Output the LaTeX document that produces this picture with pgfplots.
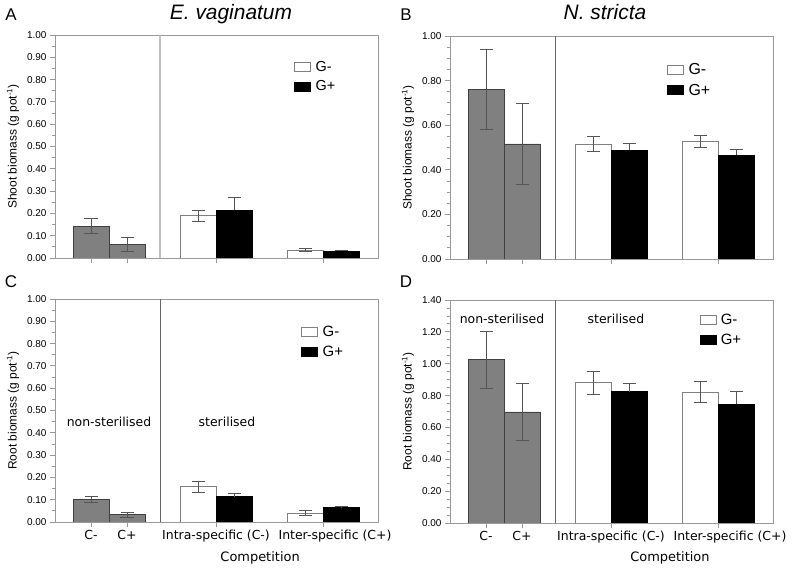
\documentclass[border=0pt]{standalone}
\usepackage{fontspec}
\setmainfont{Liberation Sans}
\newfontfamily\dejavu{DejaVu Sans}
\usepackage{pgfplots}
\pgfplotsset{compat=1.18}

\definecolor{barGray}{HTML}{808080}
\definecolor{frameGray}{HTML}{999999}
\definecolor{errGray}{HTML}{555555}

\pgfplotsset{
  errs/.style={error bars/.cd, y dir=both, y explicit,
    error bar style={errGray, line width=0.8bp},
    error mark options={errGray, rotate=90, mark size=6.5bp, line width=0.8bp}},
  errsup/.style={error bars/.cd, y dir=plus, y explicit,
    error bar style={errGray, line width=0.8bp},
    error mark options={errGray, rotate=90, mark size=6.5bp, line width=0.8bp}},
  grayb/.style={fill=barGray, draw=black!75, line width=0.8bp, forget plot, errs},
  whiteb/.style={fill=white, draw=black!50, line width=0.8bp, errs},
  blackb/.style={fill=black, draw=black, line width=0.8bp, errsup},
  panel/.style={
    scale only axis, width=323bp, height=223bp,
    xmin=0, xmax=323, ymin=0,
    axis line style={frameGray, line width=0.8bp},
    tick pos=left, tick align=outside,
    major tick length=5bp, minor tick length=3bp,
    every tick/.style={frameGray, line width=0.8bp},
    xtick={36,72,161,268},
    y tick label style={/pgf/number format/fixed, /pgf/number format/fixed zerofill,
      /pgf/number format/precision=2, font=\fontsize{10}{12}\selectfont},
    /pgf/number format/assume math mode=true,
    ylabel style={at={(axis description cs:-0.13,0.5)}, anchor=center, font=\fontsize{12}{14}\selectfont},
    ybar, bar width=36, bar shift=0pt,
    legend image code/.code={\draw[##1, line width=0.8bp] (0bp,-4.5bp) rectangle (16bp,4.5bp);},
    legend style={draw=none, fill=none, anchor=north west, inner sep=0pt,
      nodes={inner sep=1.5bp}, font=\fontsize{15}{17}\selectfont, row sep=5bp, column sep=3bp},
    legend cell align=left,
  },
  bottompanel/.style={
    xticklabels={C-,C+,Intra-specific (C-),\hspace*{24bp}Inter-specific (C+)},
    x tick label style={font=\dejavu\fontsize{12.5}{15}\selectfont},
    xlabel={Competition},
    xlabel style={font=\dejavu\fontsize{13}{15}\selectfont, anchor=center},
  },
}

\begin{document}
\begin{tikzpicture}[x=1bp,y=1bp]
\path[use as bounding box] (0bp,0bp) rectangle (793bp,568bp);

% A
\begin{axis}[panel, at={(55bp,310bp)}, anchor=south west, ymax=1,
  ytick={0,0.1,0.2,0.3,0.4,0.5,0.6,0.7,0.8,0.9,1.0}, minor y tick num=1,
  xticklabels={},
  ylabel={Shoot biomass (g pot\textsuperscript{-1})},
  legend style={at={(axis description cs:0.74,0.89)}, font=\fontsize{14.5}{16}\selectfont}]
\addplot[grayb] coordinates {(36,0.143) +- (0,0.033) (72,0.060) +- (0,0.032)};
\addplot[whiteb] coordinates {(143,0.190) +- (0,0.025) (250,0.036) +- (0,0.008)};
\addplot[blackb] coordinates {(179,0.213) +- (0,0.060) (286,0.031) +- (0,0.003)};
\legend{G-,G+}
\draw[black!25, line width=1.5bp] (axis cs:105,0) -- (axis cs:105,1);
\end{axis}

% B
\begin{axis}[panel, at={(450bp,309bp)}, anchor=south west, ymax=1,
  ytick={0,0.2,0.4,0.6,0.8,1.0}, minor y tick num=3,
  xticklabels={},
  ylabel={Shoot biomass (g pot\textsuperscript{-1})},
  legend style={at={(axis description cs:0.672,0.885)}, font=\fontsize{16}{18}\selectfont}]
\addplot[grayb] coordinates {(36,0.762) +- (0,0.18) (72,0.516) +- (0,0.18)};
\addplot[whiteb] coordinates {(143,0.515) +- (0,0.033) (250,0.528) +- (0,0.028)};
\addplot[blackb] coordinates {(179,0.487) +- (0,0.032) (286,0.465) +- (0,0.028)};
\legend{G-,G+}
\draw[black!60, line width=0.8bp] (axis cs:105,0) -- (axis cs:105,1);
\end{axis}

% C
\begin{axis}[panel, bottompanel, at={(55bp,46bp)}, anchor=south west, ymax=1,
  ytick={0,0.1,0.2,0.3,0.4,0.5,0.6,0.7,0.8,0.9,1.0}, minor y tick num=1,
  ylabel={Root biomass (g pot\textsuperscript{-1})},
  xlabel style={at={(axis description cs:0.635,-0.16)}},
  legend style={at={(axis description cs:0.762,0.885)}}]
\addplot[grayb] coordinates {(36,0.102) +- (0,0.012) (72,0.033) +- (0,0.011)};
\addplot[whiteb] coordinates {(143,0.158) +- (0,0.024) (250,0.040) +- (0,0.010)};
\addplot[blackb] coordinates {(179,0.114) +- (0,0.016) (286,0.065) +- (0,0.005)};
\legend{G-,G+}
\draw[black!60, line width=0.8bp] (axis cs:105,0) -- (axis cs:105,1);
\node[font=\dejavu\fontsize{12.5}{15}\selectfont] at (axis cs:54,0.448) {non-sterilised};
\node[font=\dejavu\fontsize{12.5}{15}\selectfont] at (axis cs:172,0.448) {sterilised};
\end{axis}

% D
\begin{axis}[panel, bottompanel, at={(450bp,45bp)}, anchor=south west, ymax=1.4,
  ytick={0,0.2,0.4,0.6,0.8,1.0,1.2,1.4}, minor y tick num=3,
  ylabel={Root biomass (g pot\textsuperscript{-1})},
  xlabel style={at={(axis description cs:0.681,-0.155)}},
  legend style={at={(axis description cs:0.772,0.945)}}]
\addplot[grayb] coordinates {(36,1.025) +- (0,0.18) (72,0.697) +- (0,0.18)};
\addplot[whiteb] coordinates {(143,0.880) +- (0,0.070) (250,0.822) +- (0,0.065)};
\addplot[blackb] coordinates {(179,0.825) +- (0,0.052) (286,0.745) +- (0,0.080)};
\legend{G-,G+}
\draw[black!60, line width=0.8bp] (axis cs:105,0) -- (axis cs:105,1.4);
\node[font=\dejavu\fontsize{12.5}{15}\selectfont] at (axis cs:52,1.281) {non-sterilised};
\node[font=\dejavu\fontsize{12.5}{15}\selectfont] at (axis cs:166,1.281) {sterilised};
\end{axis}

% titles and panel letters
\node[anchor=base, font=\itshape\fontsize{21}{25}\selectfont] at (231bp,548bp) {E. vaginatum};
\node[anchor=base, font=\itshape\fontsize{21}{25}\selectfont] at (605bp,548bp) {N. stricta};
\node[anchor=base, font=\fontsize{17}{20}\selectfont] at (11bp,547bp) {A};
\node[anchor=base, font=\fontsize{17}{20}\selectfont] at (406bp,547bp) {B};
\node[anchor=base, font=\fontsize{17}{20}\selectfont] at (11bp,280bp) {C};
\node[anchor=base, font=\fontsize{17}{20}\selectfont] at (406bp,280bp) {D};
\end{tikzpicture}
\end{document}
